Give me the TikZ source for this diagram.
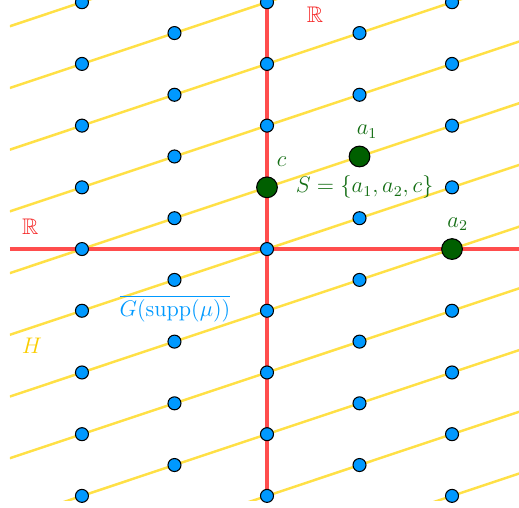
\documentclass[tikz,border=0pt]{standalone}
\usepackage{amsmath,amssymb}
\usetikzlibrary{positioning}
\definecolor{axisred}{RGB}{255,77,77}
\definecolor{labelred}{RGB}{245,40,40}
\definecolor{dotblue}{RGB}{0,153,255}
\definecolor{lineyellow}{RGB}{255,224,70}
\definecolor{labelyellow}{RGB}{250,205,0}
\definecolor{ptgreen}{RGB}{0,95,0}
\definecolor{txtgreen}{RGB}{20,110,20}
\tikzset{
  latdot/.style={circle,draw=black,fill=dotblue,line width=0.6pt,minimum size=7.4pt,inner sep=0pt},
  sdot/.style={circle,draw=black,fill=ptgreen,line width=0.6pt,minimum size=11.8pt,inner sep=0pt},
  lbl/.style={font=\fontsize{12}{14}\selectfont,scale=1.07,inner sep=1pt}
}
\begin{document}
\begin{tikzpicture}[x=1.85cm,y=1.234cm]
  \useasboundingbox (-2.886,-4.181) rectangle (2.724,4.036);
  \begin{scope}
    \clip (-2.78,-4.07) rectangle (2.73,4.04);
    % Lines of H through the lattice
    \foreach \k in {-6,...,6} {
      \draw[lineyellow,line width=1.4pt] (-2.78,-1.39+\k) -- (2.73,1.365+\k);
    }
    % The two copies of R
    \draw[axisred,line width=1.8pt] (-2.78,0) -- (2.73,0);
    \draw[axisred,line width=1.8pt] (0,-4.07) -- (0,4.04);
  \end{scope}
  % Lattice points, even columns
  \foreach \x in {-2,0,2} {
    \foreach \y in {-4,...,4} {
      \node[latdot] (e\x\y) at (\x,\y) {};
    }
  }
  % Lattice points, odd columns (shifted by one half)
  \foreach \x in {-1,1} {
    \foreach \y in {-4,...,3} {
      \node[latdot] (o\x\y) at (\x,\y+0.5) {};
    }
  }
  % The set S
  \node[sdot] (c) at (0,1) {};
  \node[sdot] (a1) at (1,1.5) {};
  \node[sdot] (a2) at (2,0) {};
  \node[lbl,txtgreen,above right=6pt and 0pt of c] {$c$};
  \node[lbl,txtgreen,above=3pt of a1,xshift=4pt] {$a_1$};
  \node[lbl,txtgreen,above=3pt of a2,xshift=3pt] {$a_2$};
  \node[lbl,txtgreen] (setS) at (1.055,1.0) {$S=\{a_1,a_2,c\}$};
  % Labels
  \node[lbl,labelred] (rtop) at (0.52,3.79) {$\mathbb{R}$};
  \node[lbl,labelred] (rleft) at (-2.56,0.36) {$\mathbb{R}$};
  \node[lbl,labelyellow] (hlbl) at (-2.54,-1.56) {$H$};
  \node[lbl,dotblue] (glbl) at (-0.995,-0.97) {$\overline{G(\mathrm{supp}(\mu))}$};
\end{tikzpicture}
\end{document}
